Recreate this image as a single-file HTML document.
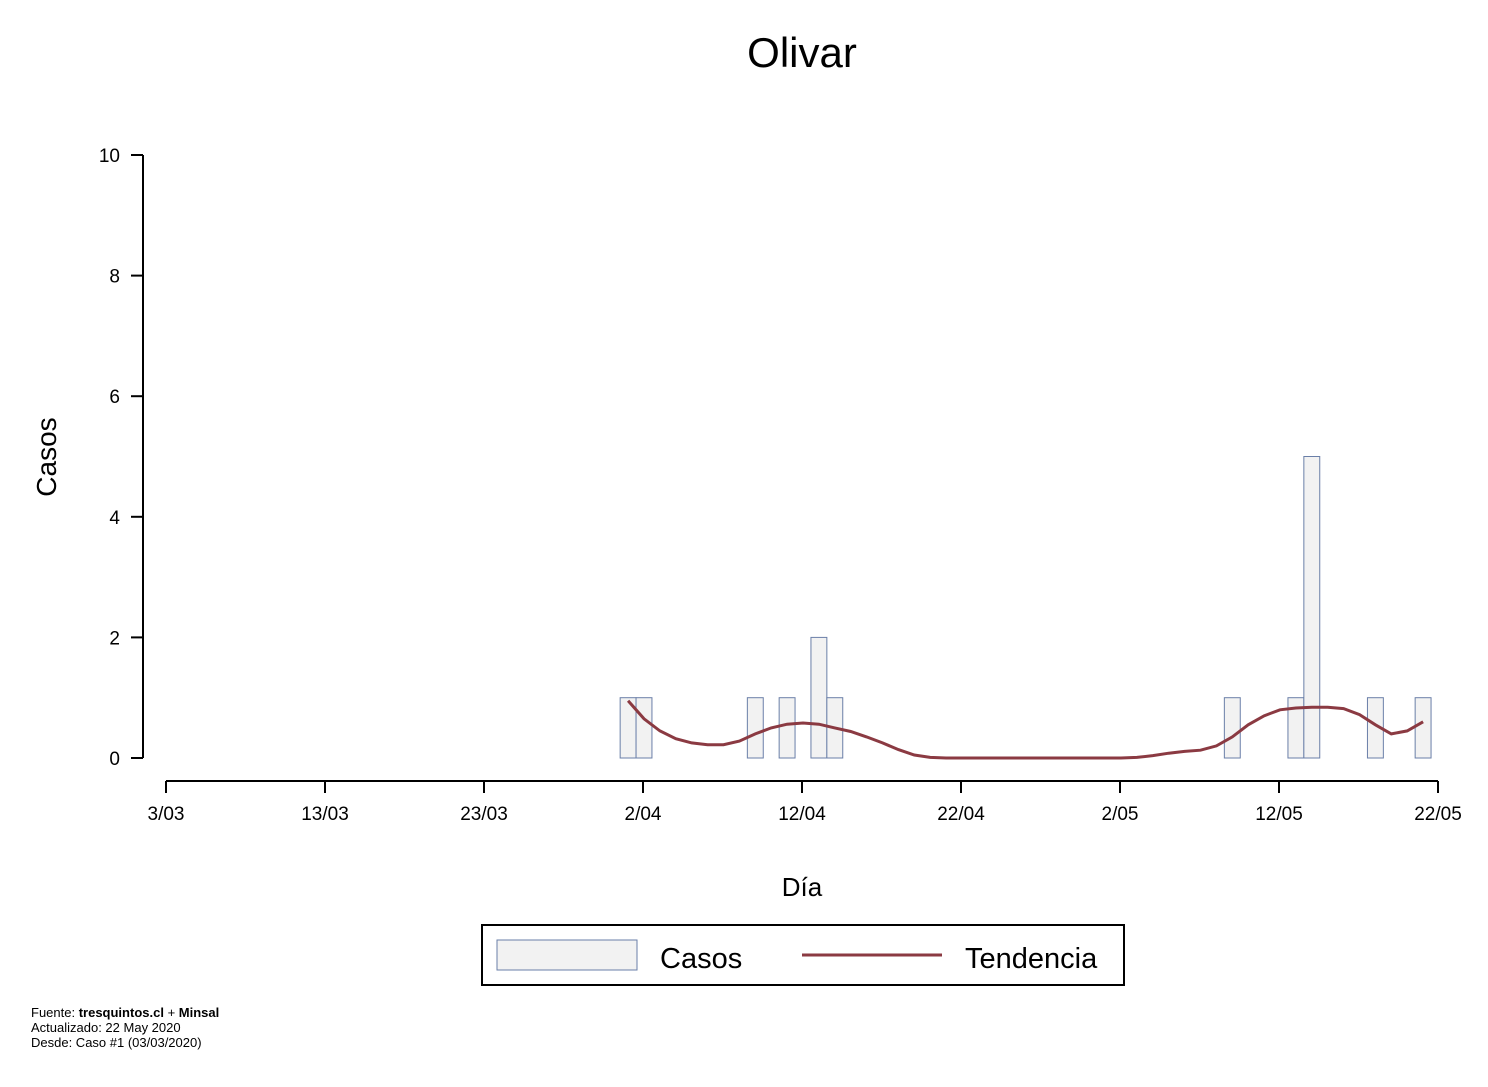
<!DOCTYPE html>
<html><head><meta charset="utf-8"><style>
body{margin:0;background:#fff;font-family:"Liberation Sans",sans-serif;}
svg text{font-family:"Liberation Sans",sans-serif;}
</style></head><body>
<svg id="chart" width="1488" height="1082" xmlns="http://www.w3.org/2000/svg">
<rect width="1488" height="1082" fill="#fff"/>
<text x="802" y="67" font-size="42" text-anchor="middle">Olivar</text>
<g id="yaxis"></g>
<g id="xaxis"></g>
<g id="bars"></g>
<g id="trend"></g>
<text x="56" y="457" font-size="28" text-anchor="middle" transform="rotate(-90 56 457)">Casos</text>
<text x="802" y="896" font-size="26" text-anchor="middle">Día</text>
<g>
<rect x="482" y="925" width="642" height="60" fill="#fff" stroke="#000" stroke-width="2"/>
<rect x="497" y="940" width="140" height="30" fill="#f2f2f2" stroke="#6a7fa8"/>
<text x="660" y="968" font-size="29">Casos</text>
<line x1="802" y1="955" x2="942" y2="955" stroke="#8b3a42" stroke-width="3"/>
<text x="965" y="968" font-size="29">Tendencia</text>
</g>
<g font-size="13">
<text x="31" y="1017">Fuente: <tspan font-weight="bold">tresquintos.cl</tspan> + <tspan font-weight="bold">Minsal</tspan></text>
<text x="31" y="1032">Actualizado: 22 May 2020</text>
<text x="31" y="1047">Desde: Caso #1  (03/03/2020)</text>
</g>
</svg>
<script>
const xTickLabels=["3/03","13/03","23/03","2/04","12/04","22/04","2/05","12/05","22/05"];
const yTicks=[0,2,4,6,8,10];
const barDays=[29,30,37,39,41,42,67,71,72,76,79];
const barValues=[1,1,1,1,2,1,1,1,5,1,1];
const trendStart=29;
const trendValues=[0.95,0.65,0.45,0.32,0.25,0.22,0.22,0.28,0.4,0.5,0.56,0.58,0.56,0.5,0.44,0.35,0.25,0.14,0.05,0.01,0,0,0,0,0,0,0,0,0,0,0,0,0.01,0.04,0.08,0.11,0.13,0.2,0.35,0.55,0.7,0.8,0.83,0.84,0.84,0.82,0.72,0.55,0.4,0.45,0.6];
const NS="http://www.w3.org/2000/svg";
const X=d=>166+d*(1438-166)/80;
const Y=v=>758-v*(758-155)/10;
function mk(tag,attrs,parent,txt){const e=document.createElementNS(NS,tag);for(const k in attrs)e.setAttribute(k,attrs[k]);if(txt!==undefined)e.textContent=txt;parent.appendChild(e);return e;}
const ya=document.getElementById('yaxis');
mk('line',{x1:143,y1:Y(0),x2:143,y2:Y(10),stroke:'#000','stroke-width':2},ya);
yTicks.forEach(t=>{
 mk('line',{x1:131,y1:Y(t),x2:143,y2:Y(t),stroke:'#000','stroke-width':2},ya);
 const tx=mk('text',{x:120,y:Y(t)+7,'font-size':19,'text-anchor':'end'},ya,String(t));
 
 
});
const xa=document.getElementById('xaxis');
mk('line',{x1:X(0),y1:781,x2:X(80),y2:781,stroke:'#000','stroke-width':2},xa);
xTickLabels.forEach((l,i)=>{
 mk('line',{x1:X(i*10),y1:781,x2:X(i*10),y2:793,stroke:'#000','stroke-width':2},xa);
 const tx=mk('text',{x:X(i*10),y:820,'font-size':19,'text-anchor':'middle'},xa,l);
 
 
});
const bg=document.getElementById('bars');
const w=(1438-166)/80;
barDays.forEach((d,i)=>{
 const r=mk('rect',{x:X(d)-w/2+1,y:Y(barValues[i]),width:w,height:Y(0)-Y(barValues[i]),fill:'#f2f2f2',stroke:'#6a7fa8','stroke-width':1},bg);
 
 
});
const pts=trendValues.map((v,i)=>(X(trendStart+i)+1).toFixed(1)+','+Y(v).toFixed(1)).join(' ');
const pl=mk('polyline',{points:pts,fill:'none',stroke:'#8b3a42','stroke-width':3},document.getElementById('trend'));


</script>
</body></html>
